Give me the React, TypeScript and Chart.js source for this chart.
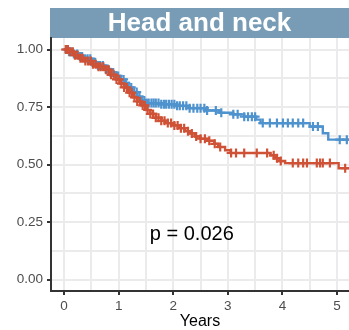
import React, { useEffect, useRef } from 'react';
import { Chart, registerables } from 'chart.js';

Chart.register(...registerables);

const panelTitle = 'Head and neck';
const xTitle = 'Years';
const pLabel = 'p = 0.026';
const pPos = [2.34, 0.195];

const xTicks = [0, 0.5, 1, 1.5, 2, 2.5, 3, 3.5, 4, 4.5, 5];
const yTicks = [0, 0.125, 0.25, 0.375, 0.5, 0.625, 0.75, 0.875, 1];

const blueTimes = [0, 0.08, 0.18, 0.28, 0.38, 0.5, 0.62, 0.75, 0.85, 0.95, 1.03, 1.1, 1.18, 1.26, 1.34, 1.42, 1.5, 1.75, 2.05, 2.3, 2.6, 2.85, 3.1, 3.3, 3.52, 3.6, 4.5, 4.74, 4.84];
const blueSurv = [1.0, 0.99, 0.98, 0.97, 0.96, 0.945, 0.93, 0.915, 0.9, 0.885, 0.87, 0.855, 0.835, 0.815, 0.795, 0.778, 0.767, 0.762, 0.755, 0.745, 0.735, 0.725, 0.718, 0.708, 0.695, 0.68, 0.665, 0.636, 0.608];
const blueCensor = [0.04, 0.09, 0.13, 0.18, 0.24, 0.29, 0.33, 0.38, 0.43, 0.48, 0.52, 0.57, 0.62, 0.66, 0.71, 0.76, 0.8, 0.85, 0.9, 0.95, 0.99, 1.04, 1.09, 1.13, 1.18, 1.23, 1.28, 1.33, 1.38, 1.42, 1.47, 1.51, 1.55, 1.6, 1.64, 1.68, 1.73, 1.78, 1.83, 1.87, 1.92, 1.97, 2.02, 2.07, 2.12, 2.18, 2.24, 2.3, 2.37, 2.44, 2.5, 2.57, 2.62, 2.78, 2.88, 3.1, 3.18, 3.3, 3.37, 3.44, 3.5, 3.64, 3.77, 3.9, 4.01, 4.1, 4.19, 4.29, 4.38, 4.56, 4.65, 5.05, 5.18];

const redTimes = [0, 0.08, 0.18, 0.28, 0.38, 0.5, 0.62, 0.75, 0.85, 0.95, 1.03, 1.1, 1.18, 1.26, 1.34, 1.42, 1.5, 1.58, 1.68, 1.78, 1.9, 2.0, 2.12, 2.22, 2.3, 2.4, 2.5, 2.65, 2.75, 2.82, 2.95, 3.05, 3.78, 3.86, 3.95, 4.05, 5.03];
const redSurv = [1.0, 0.99, 0.975, 0.962, 0.95, 0.936, 0.925, 0.912, 0.89, 0.87, 0.852, 0.835, 0.812, 0.792, 0.774, 0.757, 0.737, 0.72, 0.703, 0.69, 0.68, 0.67, 0.658, 0.645, 0.635, 0.622, 0.612, 0.603, 0.59, 0.576, 0.562, 0.55, 0.54, 0.527, 0.515, 0.506, 0.484];
const redCensor = [0.03, 0.07, 0.11, 0.16, 0.2, 0.25, 0.3, 0.34, 0.39, 0.44, 0.49, 0.53, 0.58, 0.63, 0.67, 0.72, 0.77, 0.82, 0.86, 0.91, 0.96, 1.01, 1.05, 1.1, 1.15, 1.2, 1.24, 1.29, 1.34, 1.39, 1.44, 1.48, 1.53, 1.58, 1.63, 1.68, 1.73, 1.78, 1.84, 1.9, 1.96, 2.02, 2.08, 2.14, 2.2, 2.27, 2.34, 2.42, 2.5, 2.58, 2.66, 2.76, 2.86, 3.06, 3.15, 3.3, 3.53, 3.72, 3.84, 3.9, 3.97, 4.19, 4.29, 4.38, 4.45, 4.63, 4.69, 4.74, 4.87, 5.15];

const BLUE = '#4E92CE';
const RED = '#CF5236';
const STRIP = '#789CB6';
const FONT = "'Liberation Sans', Arial, Helvetica, sans-serif";
const X_END = 5.3;

function stepPoints(times: number[], surv: number[]) {
  const pts = times.map((t, i) => ({ x: t, y: surv[i] }));
  pts.push({ x: X_END, y: surv[surv.length - 1] });
  return pts;
}

function survAt(times: number[], surv: number[], t: number) {
  let s = surv[0];
  for (let i = 0; i < times.length; i++) {
    if (times[i] <= t) s = surv[i];
  }
  return s;
}

function censorPoints(times: number[], surv: number[], cens: number[]) {
  return cens.map((t) => ({ x: t, y: survAt(times, surv, t) }));
}

const decorPlugin = {
  id: 'decor',
  beforeDraw(chart: any) {
    const { ctx, chartArea } = chart;
    ctx.save();
    ctx.fillStyle = STRIP;
    const left = chartArea.left - 1;
    ctx.fillRect(left, 8, chart.width - left, chartArea.top - 8);
    ctx.fillStyle = '#FFFFFF';
    ctx.font = `bold 26px ${FONT}`;
    ctx.textAlign = 'center';
    ctx.textBaseline = 'middle';
    ctx.fillText(panelTitle, (left + chart.width) / 2, (8 + chartArea.top) / 2 + 1);
    ctx.restore();
  },
  afterDatasetsDraw(chart: any) {
    const { ctx, scales } = chart;
    ctx.save();
    ctx.fillStyle = '#000000';
    ctx.font = `20px ${FONT}`;
    ctx.textAlign = 'center';
    ctx.textBaseline = 'middle';
    ctx.fillText(pLabel, scales.x.getPixelForValue(pPos[0]), scales.y.getPixelForValue(pPos[1]));
    ctx.restore();
  },
};

export default function App() {
  const ref = useRef<HTMLCanvasElement>(null);
  useEffect(() => {
    document.body.style.margin = '0';
    const lineDs = (data: any[], color: string) => ({
      data,
      showLine: true,
      stepped: true,
      borderColor: color,
      backgroundColor: color,
      borderWidth: 2.4,
      pointRadius: 0,
      fill: false,
    });
    const markDs = (data: any[], color: string) => ({
      data,
      showLine: false,
      pointStyle: 'cross',
      pointRadius: 4.5,
      borderColor: color,
      backgroundColor: color,
      pointBorderWidth: 2.2,
      borderWidth: 2.2,
    });
    const chart = new Chart(ref.current as HTMLCanvasElement, {
      type: 'scatter',
      data: {
        datasets: [
          lineDs(stepPoints(redTimes, redSurv), RED),
          markDs(censorPoints(redTimes, redSurv, redCensor), RED),
          lineDs(stepPoints(blueTimes, blueSurv), BLUE),
          markDs(censorPoints(blueTimes, blueSurv, blueCensor), BLUE),
        ] as any,
      },
      options: {
        animation: false,
        responsive: false,
        events: [],
        layout: { autoPadding: false, padding: { top: 38, left: 0, right: 0, bottom: 0 } },
        plugins: { legend: { display: false }, tooltip: { enabled: false } },
        scales: {
          x: {
            type: 'linear',
            min: -0.24,
            max: 5.22,
            afterBuildTicks: (s: any) => {
              s.ticks = xTicks.map((v) => ({ value: v }));
            },
            afterFit: (s: any) => {
              s.height = 39;
            },
            grid: {
              color: '#EBEBEB',
              lineWidth: 2,
              tickLength: 4,
              tickWidth: 2,
              tickColor: (c: any) => (c.index % 2 === 0 ? '#333333' : 'rgba(0,0,0,0)'),
            },
            border: { display: true, color: '#333333', width: 2 },
            ticks: {
              autoSkip: false,
              maxRotation: 0,
              padding: 3,
              color: '#4D4D4D',
              font: { family: FONT, size: 13.5 },
              callback: (v: any, i: number) => (i % 2 === 0 ? String(xTicks[i]) : ''),
            },
            title: {
              display: true,
              text: xTitle,
              color: '#000000',
              font: { family: FONT, size: 16, lineHeight: 1 },
              padding: { top: 0, bottom: 0 },
            },
          },
          y: {
            type: 'linear',
            min: -0.05,
            max: 1.05,
            afterBuildTicks: (s: any) => {
              s.ticks = yTicks.map((v) => ({ value: v }));
            },
            afterFit: (s: any) => {
              s.width = 51;
            },
            grid: {
              color: '#EBEBEB',
              lineWidth: 2,
              tickLength: 4,
              tickWidth: 2,
              tickColor: (c: any) => (c.index % 2 === 0 ? '#333333' : 'rgba(0,0,0,0)'),
            },
            border: { display: true, color: '#333333', width: 2 },
            ticks: {
              autoSkip: false,
              padding: 4,
              color: '#4D4D4D',
              font: { family: FONT, size: 13.5 },
              callback: (v: any, i: number) => (i % 2 === 0 ? yTicks[i].toFixed(2) : ''),
            },
          },
        },
      },
      plugins: [decorPlugin],
    } as any);
    return () => chart.destroy();
  }, []);
  return (
    <div style={{ width: 349, height: 330 }}>
      <canvas ref={ref} width={349} height={330} style={{ display: 'block' }} />
    </div>
  );
}
